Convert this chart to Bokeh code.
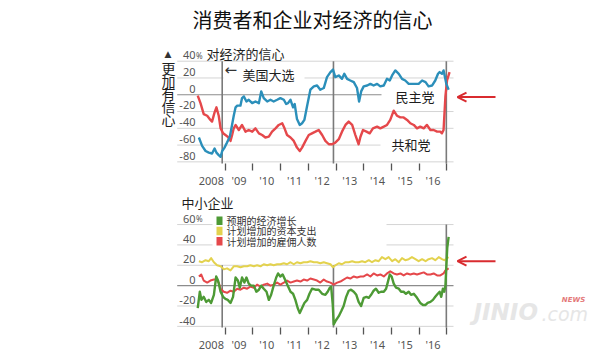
from bokeh.plotting import figure
from bokeh.layouts import column
from bokeh.models import Range1d, FixedTicker, Arrow, OpenHead
from bokeh.core.properties import value
from bokeh.embed import file_html
from bokeh.resources import INLINE

CJK = "Noto Sans CJK SC"
NUM = "Noto Sans"

# ---------------- data (months since Jan 2008, percent balance) ----------------
DEM_M = [0.6, 2.0, 3.5, 4.9, 6.3, 7.4, 8.2, 9.2, 10.0, 10.7, 11.7, 12.8, 14.0, 14.7, 15.7, 16.5, 17.2, 18.6, 19.3, 20.1,
         21.2, 22.2, 23.7, 25.1, 26.6, 27.6, 28.7, 30.2, 31.6, 33.0, 34.5, 35.9, 37.4, 38.4, 39.2, 40.3, 41.4, 42.1, 43.1, 44.3,
         45.3, 46.3, 47.5, 48.9, 50.4, 51.8, 53.2, 54.7, 56.1, 57.6, 58.7, 59.7, 61.2, 62.6, 63.6, 64.8, 66.2, 67.7, 69.1, 70.0,
         70.9, 72.0, 73.5, 74.9, 76.3, 77.8, 79.2, 80.7, 82.1, 83.3, 84.3, 85.7, 87.2, 88.6, 90.0, 91.5, 92.9, 94.4, 95.8, 97.3,
         98.8, 100.1, 101.6, 103.0, 104.2, 104.9, 105.9, 106.6, 107.8, 108.8]
DEM_V = [-51, -61, -67, -69, -70, -64, -69, -72, -74, -67, -63, -57, -50, -40, -25, -15, -13, -13, -4, -2,
         -8, -6, -10, -8, -10, 4, -4, -8, -6, -8, -6, -4, -6, -11, -10, -6, -15, -11, -29, -36,
         -34, -30, -13, 6, 10, 11, 6, 8, 21, 27, 30, 21, 23, 19, 25, 19, 17, 15, 8, -8,
         4, 10, 11, 13, 11, 13, 10, 11, 19, 17, 23, 29, 25, 19, 17, 13, 13, 13, 13, 17,
         15, 10, 11, 17, 25, 27, 25, 29, 13, 6]

REP_M = [0.1, 1.3, 2.7, 4.2, 5.6, 6.3, 7.4, 8.2, 9.2, 10.0, 11.1, 12.1, 13.1, 14.3, 15.0, 15.7, 16.5, 17.9, 19.3, 20.8,
         22.2, 23.7, 25.1, 26.6, 28.0, 29.4, 30.9, 32.3, 33.8, 35.2, 36.7, 37.7, 38.8, 40.3, 41.7, 43.1, 44.3, 45.3, 46.8, 48.2,
         49.6, 51.1, 52.5, 54.0, 55.4, 56.9, 58.3, 59.7, 61.2, 62.6, 64.1, 65.5, 67.0, 68.4, 69.8, 70.6, 71.7, 73.2, 74.6, 76.0,
         77.8, 79.2, 80.7, 82.1, 83.5, 85.0, 86.4, 87.9, 89.3, 90.8, 92.2, 93.7, 95.1, 96.5, 98.0, 99.4, 100.9, 102.3, 103.8, 105.2,
         105.9, 106.6, 107.4, 108.1, 109.2]
REP_V = [-1, -10, -23, -25, -30, -32, -21, -15, -25, -40, -46, -48, -50, -55, -48, -40, -36, -42, -36, -44,
         -42, -44, -40, -46, -48, -51, -50, -44, -40, -36, -34, -40, -48, -51, -55, -63, -67, -63, -55, -48,
         -46, -44, -42, -48, -55, -59, -59, -57, -53, -44, -36, -32, -36, -48, -59, -50, -42, -44, -46, -40,
         -38, -40, -38, -36, -30, -19, -25, -27, -27, -30, -34, -36, -40, -38, -40, -36, -42, -42, -44, -44,
         -46, -42, -2, 17, 27]

GROWTH_M = [0.1, 1.0, 1.7, 2.7, 3.8, 4.9, 5.9, 7.1, 8.1, 8.9, 10.0, 11.1, 12.1, 13.1, 14.3, 15.4, 16.5, 17.5, 18.3, 19.3,
            20.3, 21.2, 22.2, 23.2, 24.4, 25.5, 26.6, 27.6, 28.7, 29.9, 30.9, 31.9, 33.0, 34.1, 34.9, 35.9, 36.9, 38.1, 39.1, 40.3,
            41.4, 42.4, 43.4, 44.3, 45.3, 46.3, 47.5, 48.5, 49.6, 51.1, 52.5, 54.0, 55.4, 56.4, 57.3, 57.9, 58.6, 59.0, 60.0, 61.2,
            62.3, 63.3, 64.4, 65.5, 66.5, 67.7, 68.8, 69.8, 70.9, 72.0, 73.2, 74.2, 75.2, 76.3, 77.3, 78.5, 79.5, 80.7, 81.7, 82.4,
            83.3, 84.1, 85.0, 86.0, 87.2, 88.2, 89.3, 90.3, 91.5, 92.5, 93.7, 95.1, 96.5, 97.7, 98.8, 99.7, 100.9, 102.0, 103.0, 104.1,
            104.9, 105.6, 106.3, 106.9, 107.4, 107.8, 108.2, 108.8]
GROWTH_V = [-22, -6, -14, -11, -16, -14, -17, -9, 9, 5, -6, -11, -13, -14, -17, -11, 8, 5, -2, 8,
            3, 8, 2, 0, 0, -6, -4, 0, -3, -6, -14, -9, 0, 8, 12, 9, 11, 5, 0, -6,
            -8, -14, -22, -27, -22, -17, -14, -8, -3, -4, -4, -8, -9, -6, -2, -1, -19, -38, -34, -30,
            -25, -20, -11, -5, -4, -6, -9, -16, -20, -12, -11, -12, -9, -5, -3, -7, -6, -6, -3, 3,
            11, 9, 2, -2, -3, -6, -6, -8, -6, -9, -8, -12, -17, -19, -19, -17, -16, -14, -11, -8,
            -6, -11, -3, -6, 0, 19, 37, 48]

CAPEX_M = [0.6, 2.0, 3.5, 4.9, 5.9, 7.1, 8.5, 10.0, 11.4, 12.8, 14.3, 15.7, 17.2, 18.6, 20.1, 21.5, 22.9, 24.4, 25.8, 27.3,
           28.7, 30.2, 31.6, 33.0, 34.5, 35.9, 37.4, 38.8, 40.3, 41.7, 43.1, 44.6, 46.0, 47.5, 48.9, 50.4, 51.8, 53.2, 54.7, 56.1,
           57.6, 58.7, 59.7, 61.2, 62.6, 64.1, 65.5, 67.0, 68.4, 69.8, 71.3, 72.7, 74.2, 75.6, 77.1, 78.5, 79.9, 81.4, 82.8, 84.3,
           85.7, 87.2, 88.6, 90.0, 91.5, 92.9, 94.4, 95.8, 97.3, 98.8, 100.1, 101.6, 103.0, 104.5, 105.9, 106.9, 108.1, 108.8]
CAPEX_V = [24, 23, 25, 24, 27, 23, 20, 19, 16, 17, 15, 19, 19, 18, 19, 19, 20, 19, 20, 19,
           21, 20, 21, 20, 21, 21, 22, 21, 23, 21, 23, 22, 23, 23, 24, 23, 23, 22, 23, 22,
           21, 18, 20, 22, 21, 23, 23, 24, 23, 23, 24, 23, 25, 23, 25, 24, 28, 26, 28, 24,
           26, 23, 27, 25, 26, 28, 26, 24, 26, 24, 26, 27, 25, 28, 26, 25, 27, 28]

HIRE_M = [0.6, 1.6, 2.7, 4.2, 5.6, 7.1, 8.2, 9.2, 10.0, 11.4, 12.8, 14.3, 15.7, 17.2, 18.6, 20.1, 21.5, 22.9, 24.4, 25.8,
          27.3, 28.7, 30.2, 31.6, 33.0, 34.5, 35.9, 37.4, 38.8, 40.3, 41.7, 43.1, 44.6, 46.0, 47.5, 48.9, 50.4, 51.8, 53.2, 54.7,
          56.1, 57.6, 59.0, 60.5, 61.9, 63.3, 64.8, 66.2, 67.7, 69.1, 70.6, 72.0, 73.5, 74.9, 76.3, 77.8, 79.2, 80.7, 82.1, 83.5,
          85.0, 86.4, 87.9, 89.3, 90.8, 92.2, 93.7, 95.1, 96.5, 98.0, 99.4, 100.9, 102.3, 103.8, 105.2, 106.6, 107.4, 108.8]
HIRE_V = [9, 11, 5, 3, 5, 6, 6, 3, -3, -6, -7, -5, -6, -3, -4, -2, -3, -1, -2, 1,
          -1, 1, 2, 0, 1, 3, 1, 3, 5, 3, 4, 5, 4, 6, 5, 7, 6, 5, 3, 6,
          4, 3, 1, 3, 4, 6, 8, 7, 9, 8, 9, 9, 11, 9, 12, 10, 11, 9, 12, 14,
          12, 11, 12, 10, 12, 11, 12, 11, 12, 13, 11, 11, 12, 10, 10, 12, 15, 17]

ELECTIONS = [10.7, 58.9, 107.8]          # months of the three presidential elections
ELEC_TOP_UPPER = [40, 40, 40]
ELEC_TOP_LOWER = [20, 20, 60]

YEAR_LABELS = ["2008", "'09", "'10", "'11", "'12", "'13", "'14", "'15", "'16"]
TOP_TICKS = [40, 20, 0, -20, -40, -60, -80]
BOT_TICKS = [60, 40, 20, 0, -20, -40]
LEGEND_LABELS = ["预期的经济增长", "计划增加的资本支出", "计划增加的雇佣人数"]

# ---------------- styles ----------------
BLUE = "#2b8fba"
RED = "#e5484b"
GREEN = "#4d9a35"
YELLOW = "#e3d24e"
ARROW_RED = "#d92b2f"
GRID = "#d4d4d4"
ZERO = "#8c8c8c"
VLINE = "#7a7a7a"
LABEL = "#555555"
INK = "#1e1e1e"

# ---------------- layout helpers ----------------
W = 600
PXM = 27.7 / 12.0   # pixels per month
X0 = 197.0          # page x of Jan 2008


def mx(px):
    return (px - X0) / PXM


TOP_H, TOP_FB = 190, 20
T_ZERO, T_S = 98.3, 0.875


def ty(py):
    return (T_ZERO - py) / T_S


BOT_H, BOT_FB, BOT_OFF = 164, 20, 190
B_ZERO, B_S = 290.0, 1.07


def by(py):
    return (B_ZERO - py) / B_S


LABEL_POS = [6 + 12 * i for i in range(len(YEAR_LABELS))]
YEAR_BOUNDS = [12 * (i + 1) for i in range(len(YEAR_LABELS))]


def make_fig(h, fb, y0, y1):
    p = figure(width=W, height=h, x_range=Range1d(mx(0), mx(W)), y_range=Range1d(y0, y1),
               output_backend="svg", toolbar_location=None, y_axis_location=None,
               min_border_left=0, min_border_right=0, min_border_top=0, min_border_bottom=fb)
    p.grid.visible = False
    p.outline_line_color = None
    p.background_fill_color = "white"
    p.border_fill_color = "white"
    ax = p.xaxis[0]
    ax.ticker = FixedTicker(ticks=LABEL_POS, minor_ticks=YEAR_BOUNDS)
    ax.major_label_overrides = {pos: lab for pos, lab in zip(LABEL_POS, YEAR_LABELS)}
    ax.axis_line_color = None
    ax.major_tick_line_color = None
    ax.major_tick_out = 0
    ax.major_tick_in = 0
    ax.minor_tick_line_color = "#555555"
    ax.minor_tick_line_width = 1.3
    ax.minor_tick_out = 7
    ax.minor_tick_in = 0
    ax.major_label_standoff = 2
    ax.major_label_text_font = NUM
    ax.major_label_text_font_size = "11px"
    ax.major_label_text_color = LABEL
    return p


def txt(p, xs, ys, texts, size, color=INK, align="left", font=CJK, style="normal"):
    p.text(x=xs, y=ys, text=texts, text_font=value(font), text_font_size=size,
           text_color=color, text_align=align, text_baseline="middle", text_font_style=style)


GX0, GX1 = mx(176.7), mx(453)

# ================= top chart =================
top = make_fig(TOP_H, TOP_FB, ty(TOP_H - TOP_FB), ty(0))

grid_t = [t for t in TOP_TICKS if t != 0]
top.segment(x0=[GX0] * len(grid_t), x1=[GX1] * len(grid_t), y0=grid_t, y1=grid_t,
            line_color=GRID, line_width=1)
top.segment(x0=[GX0], x1=[GX1], y0=[0], y1=[0], line_color=ZERO, line_width=1.2)

# white boxes behind in-chart labels
top.quad(left=[mx(223), mx(381), mx(380)], right=[mx(304), mx(454), mx(454)],
         top=[ty(66), ty(92), ty(142)], bottom=[ty(87), ty(108), ty(158)],
         fill_color="white", line_color=None)

top.segment(x0=ELECTIONS, x1=ELECTIONS, y0=[ty(173)] * 3, y1=ELEC_TOP_UPPER,
            line_color=VLINE, line_width=1.6)

top.line(REP_M, REP_V, line_color=RED, line_width=2.4, line_join="round")
top.line(DEM_M, DEM_V, line_color=BLUE, line_width=2.4, line_join="round")

# y tick labels (above gridlines)
txt(top, [mx(195)] * len(TOP_TICKS), [t + 6.3 / T_S for t in TOP_TICKS],
    [str(t) for t in TOP_TICKS], "11px", LABEL, "right", NUM)
txt(top, [mx(195.5)], [TOP_TICKS[0] + 6.3 / T_S], ["%"], "8px", LABEL, "left", NUM)

txt(top, [mx(312)], [ty(20)], ["消费者和企业对经济的信心"], "20px", "#111111", "center")
txt(top, [mx(206)], [ty(55)], ["对经济的信心"], "13px", INK)
txt(top, [mx(167.5)], [ty(56)], ["▲"], "9px", "#333333", "center", "DejaVu Sans")
VERT = ["更", "加", "有", "信", "心"]
txt(top, [mx(168)] * len(VERT), [ty(70.5 + 13.2 * i) for i in range(len(VERT))], VERT, "14px", INK, "center")
txt(top, [mx(224)], [ty(73)], ["←"], "15px", "#333333", "left", "DejaVu Sans")
txt(top, [mx(242)], [ty(77)], ["美国大选"], "13px", INK)
txt(top, [mx(395)], [ty(100.5)], ["民主党"], "13px", INK)
txt(top, [mx(391)], [ty(150)], ["共和党"], "13px", INK)

top.add_layout(Arrow(end=OpenHead(size=9, line_color=ARROW_RED, line_width=2),
                     x_start=mx(495), x_end=mx(457), y_start=ty(100.7), y_end=ty(100.7),
                     line_color=ARROW_RED, line_width=2))

# ================= bottom chart =================
bot = make_fig(BOT_H, BOT_FB, by(BOT_OFF + BOT_H - BOT_FB), by(BOT_OFF))

grid_b = [t for t in BOT_TICKS if t != 0]
bot.segment(x0=[GX0] * len(grid_b), x1=[GX1] * len(grid_b), y0=grid_b, y1=grid_b,
            line_color=GRID, line_width=1)
bot.segment(x0=[GX0], x1=[GX1], y0=[0], y1=[0], line_color=ZERO, line_width=1.2)

# white box behind the legend
bot.quad(left=[mx(212)], right=[mx(386)], top=[by(214)], bottom=[by(252)],
         fill_color="white", line_color=None)

bot.segment(x0=ELECTIONS, x1=ELECTIONS, y0=[by(338)] * 3, y1=ELEC_TOP_LOWER,
            line_color=VLINE, line_width=1.6)

bot.line(CAPEX_M, CAPEX_V, line_color=YELLOW, line_width=2.0, line_join="round")
bot.line(HIRE_M, HIRE_V, line_color=RED, line_width=2.0, line_join="round")
bot.line(GROWTH_M, GROWTH_V, line_color=GREEN, line_width=2.4, line_join="round")

txt(bot, [mx(195)] * len(BOT_TICKS), [t + 6.1 / B_S for t in BOT_TICKS],
    [str(t) for t in BOT_TICKS], "11px", LABEL, "right", NUM)
txt(bot, [mx(195.5)], [BOT_TICKS[0] + 6.1 / B_S], ["%"], "8px", LABEL, "left", NUM)

txt(bot, [mx(181)], [by(203)], ["中小企业"], "13px", INK)

# legend (swatches + labels)
LEG_COLORS = [GREEN, YELLOW, RED]
rows = [221.7 + 10.8 * i for i in range(len(LEGEND_LABELS))]
bot.quad(left=[mx(216)] * 3, right=[mx(222)] * 3,
         top=[by(r - 4.5) for r in rows], bottom=[by(r + 4.5) for r in rows],
         fill_color=LEG_COLORS, line_color=None)
txt(bot, [mx(226)] * 3, [by(r) for r in rows], LEGEND_LABELS, "10px", "#333333")

bot.add_layout(Arrow(end=OpenHead(size=9, line_color=ARROW_RED, line_width=2),
                     x_start=mx(495), x_end=mx(457), y_start=by(264.3), y_end=by(264.3),
                     line_color=ARROW_RED, line_width=2))

# watermark
txt(bot, [mx(473)], [by(318)], ["JINIO"], "23px", "#e6e6e6", "left", "DejaVu Sans", "bold italic")
txt(bot, [mx(541)], [by(320)], [".com"], "19px", "#e6e6e6", "left", "DejaVu Sans", "italic")
txt(bot, [mx(573)], [by(305)], ["NEWS"], "7px", "#e47a7a", "center", "DejaVu Sans", "bold italic")

layout = column(top, bot, spacing=0)
open("out.html", "w").write(file_html(layout, INLINE))
